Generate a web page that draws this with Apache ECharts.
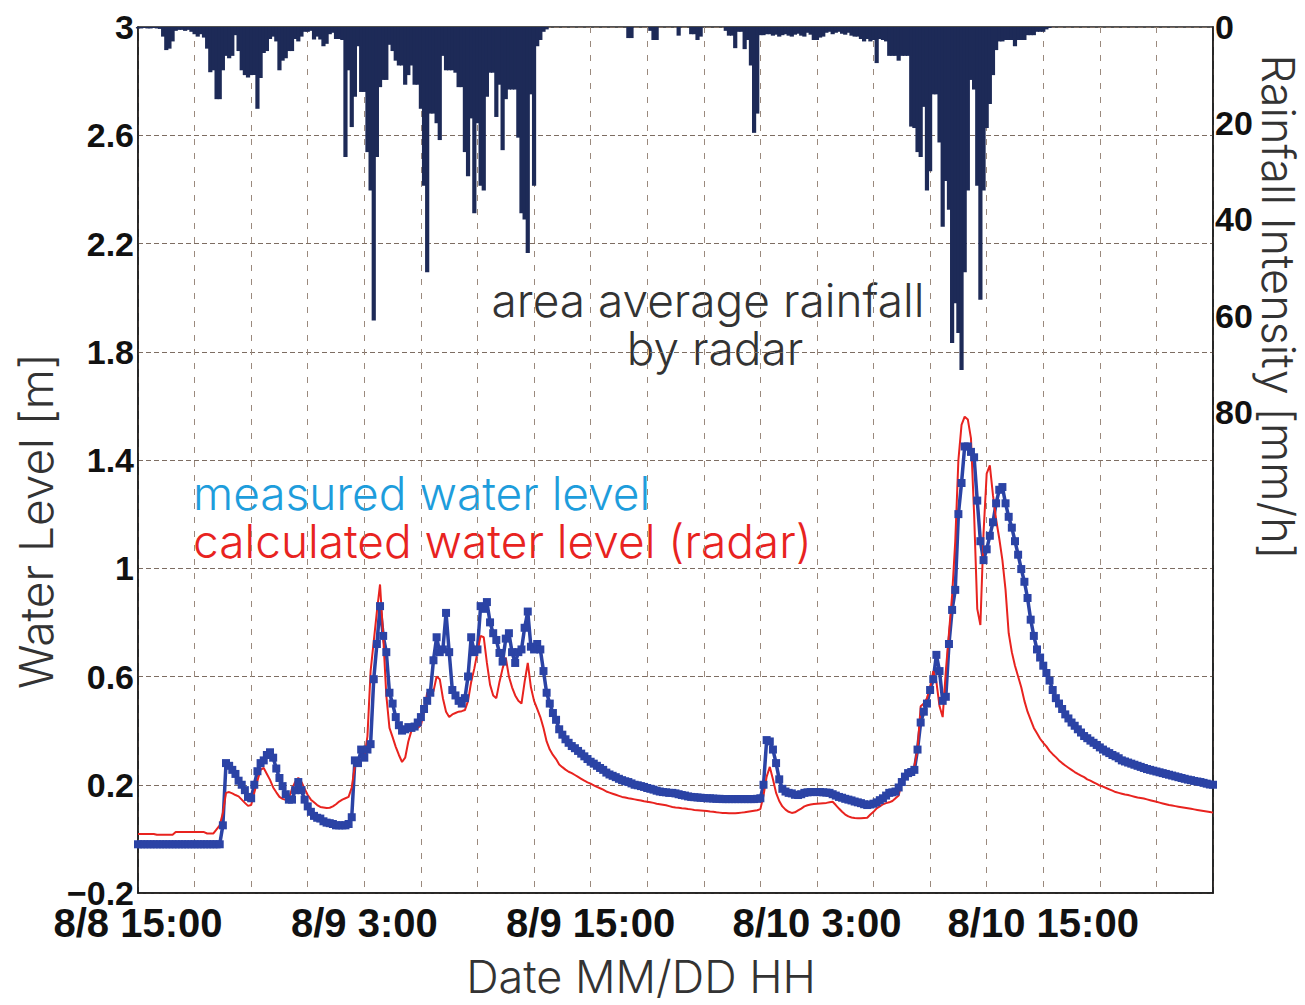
<!DOCTYPE html>
<html><head><meta charset="utf-8">
<script src="https://cdn.jsdelivr.net/npm/echarts@6/dist/echarts.min.js"></script>
<style>html,body{margin:0;padding:0;background:#fff}#c{width:1305px;height:1005px}</style>
</head><body><div id="c"></div>
<script>
// x axis: hours after 8/8 15:00
const xTickHours = [0, 12, 24, 36, 48];
const xTickLabels = ['8/8 15:00', '8/9 3:00', '8/9 15:00', '8/10 3:00', '8/10 15:00'];
const levelTicks = [-0.2, 0.2, 0.6, 1, 1.4, 1.8, 2.2, 2.6, 3];
const rainTicks = [0, 20, 40, 60, 80];
const stepHours = 1 / 6; // 10-minute records

// area average rainfall by radar [mm/h], 10-min
const rainfall = [
  0.3,0.3,0.2,0.3,0.3,0.2,0.3,0.4,2,4.8,
  4.5,3,0.8,0.6,0.6,0.8,0.6,1,1.5,2,
  1.5,2.2,4.5,9.4,9,15,15,9,6,6.5,
  6,1.7,5,9,10,10.5,10,10,17,10.6,
  5.4,5,2.5,2,3,9,7,6.5,5,5,
  2.5,3,2,1,1,0.8,2.6,2,2.6,4,
  3.5,1.5,1.2,2.5,2.5,2.7,27,9,20.8,14.5,
  4,13.5,13.5,26,34,61,27,12.5,11,11,
  3.7,5,7,8,8,12,10,8,12,12,
  17,33,51,18,18,20,23.5,6,9,9,
  9,9.5,12.5,12.5,26,31,19,38.7,20,33,
  34,14.5,9.5,9.5,18.7,12,25.6,15,13,13,
  13,23,38.7,40,47,14,33,4,2.7,1,
  0.5,0,0,0,0,0,0,0,0,0,
  0,0,0,0,0,0,0,0,0,0,
  0,0,0,0,0,0,2.3,2.3,0,0,
  0,0,0,0.8,2.7,2.7,0,0,0,0,
  0,0,1.8,0,0,0,1.5,1.5,2.7,2,
  0,0,0,0,0,0,0,0.8,1.8,1.8,
  4.4,1,1,4.6,2.7,8,22,18,1.7,1.7,
  1.5,1.5,1.8,1.6,2,1.7,1.5,1.8,2,1.6,
  1.4,1.8,2,1.2,1.6,2.7,2.7,2.2,2,1.2,
  1,1.5,1.2,1,1.4,1.6,1.2,1.8,2,2,
  2.5,3,2.5,3,2.7,7.5,2.5,2.7,3,6,
  6,6,7,6,6,6,20.7,21,26,27,
  16.6,34,30,14,14,24,41.5,32,38,65.7,
  57.4,63.6,71.3,51,34,11,13,33,56.7,34,
  21,16,10,4.8,3,3,2.7,2.7,2.7,4,
  2.7,2.7,2.7,1.7,1.7,1.7,1,1,1,0.5,
  0.2,0,0,0,0,0,0,0,0,0,
  0,0,0,0,0,0,0,0,0,0,
  0,0,0,0,0,0,0,0,0,0,
  0,0,0,0,0,0,0,0,0,0,
  0,0,0,0,0,0,0,0,0,0,
  0,0,0
];

// measured water level [m], 10-min
const measuredLevel = [
  -0.02,-0.02,-0.02,-0.02,-0.02,-0.02,-0.02,-0.02,-0.02,-0.02,
  -0.02,-0.02,-0.02,-0.02,-0.02,-0.02,-0.02,-0.02,-0.02,-0.02,
  -0.02,-0.02,-0.02,-0.02,-0.02,-0.02,-0.02,0.05,0.28,0.27,
  0.255,0.24,0.215,0.2,0.18,0.155,0.15,0.2,0.25,0.28,
  0.29,0.31,0.32,0.3,0.26,0.225,0.195,0.165,0.145,0.145,
  0.18,0.21,0.18,0.145,0.12,0.1,0.085,0.078,0.075,0.065,
  0.06,0.058,0.055,0.05,0.05,0.05,0.05,0.055,0.08,0.29,
  0.28,0.33,0.3,0.33,0.35,0.59,0.72,0.86,0.75,0.69,
  0.54,0.5,0.45,0.42,0.4,0.405,0.413,0.41,0.415,0.43,
  0.45,0.48,0.51,0.54,0.66,0.745,0.69,0.7,0.835,0.69,
  0.55,0.53,0.51,0.5,0.52,0.6,0.745,0.69,0.7,0.86,
  0.85,0.875,0.8,0.76,0.735,0.687,0.655,0.74,0.76,0.69,
  0.65,0.69,0.7,0.78,0.84,0.71,0.7,0.72,0.7,0.62,
  0.54,0.5,0.465,0.44,0.405,0.385,0.368,0.355,0.343,0.335,
  0.325,0.315,0.305,0.295,0.285,0.278,0.27,0.262,0.255,0.245,
  0.238,0.233,0.228,0.222,0.217,0.213,0.21,0.205,0.2,0.198,
  0.195,0.192,0.188,0.185,0.182,0.178,0.175,0.173,0.172,0.17,
  0.17,0.168,0.165,0.162,0.16,0.157,0.155,0.154,0.153,0.152,
  0.151,0.15,0.15,0.149,0.148,0.148,0.147,0.147,0.147,0.147,
  0.147,0.147,0.147,0.147,0.147,0.147,0.147,0.148,0.15,0.2,
  0.365,0.36,0.33,0.28,0.22,0.185,0.175,0.17,0.168,0.163,
  0.162,0.165,0.17,0.172,0.173,0.173,0.173,0.173,0.172,0.171,
  0.17,0.165,0.16,0.155,0.152,0.148,0.145,0.142,0.138,0.135,
  0.132,0.128,0.125,0.127,0.13,0.135,0.143,0.15,0.16,0.17,
  0.172,0.175,0.19,0.21,0.23,0.243,0.247,0.255,0.33,0.43,
  0.47,0.5,0.55,0.59,0.68,0.62,0.51,0.525,0.72,0.846,
  0.92,1.2,1.315,1.45,1.45,1.43,1.41,1.25,1.1,1.03,
  1.07,1.12,1.17,1.24,1.29,1.3,1.24,1.19,1.15,1.1,
  1.05,0.997,0.95,0.89,0.81,0.75,0.7,0.67,0.64,0.613,
  0.585,0.55,0.52,0.5,0.48,0.46,0.445,0.43,0.418,0.405,
  0.393,0.38,0.372,0.363,0.355,0.347,0.338,0.33,0.323,0.317,
  0.31,0.305,0.298,0.29,0.286,0.282,0.278,0.274,0.27,0.266,
  0.262,0.258,0.255,0.252,0.249,0.246,0.243,0.24,0.237,0.234,
  0.231,0.228,0.225,0.222,0.219,0.217,0.214,0.212,0.21,0.207,
  0.204,0.201,0.2
];

// calculated water level (radar) [m], 10-min
const calculatedLevel = [
  0.018,0.018,0.018,0.018,0.018,0.018,0.015,0.015,0.015,0.015,
  0.015,0.015,0.025,0.025,0.025,0.025,0.025,0.025,0.025,0.025,
  0.025,0.025,0.02,0.02,0.02,0.035,0.05,0.096,0.17,0.173,
  0.168,0.162,0.157,0.145,0.133,0.122,0.125,0.17,0.215,0.255,
  0.262,0.24,0.218,0.19,0.172,0.155,0.148,0.144,0.15,0.185,
  0.21,0.225,0.21,0.185,0.162,0.145,0.135,0.125,0.118,0.116,
  0.114,0.115,0.12,0.128,0.138,0.145,0.15,0.155,0.19,0.27,
  0.285,0.29,0.3,0.38,0.62,0.73,0.84,0.94,0.75,0.53,
  0.41,0.376,0.34,0.31,0.284,0.3,0.36,0.4,0.41,0.41,
  0.42,0.47,0.54,0.54,0.545,0.6,0.59,0.52,0.47,0.45,
  0.46,0.465,0.47,0.472,0.476,0.51,0.58,0.63,0.69,0.75,
  0.745,0.65,0.57,0.53,0.52,0.58,0.63,0.67,0.6,0.56,
  0.53,0.51,0.5,0.58,0.65,0.56,0.51,0.48,0.45,0.41,
  0.36,0.33,0.31,0.295,0.275,0.265,0.256,0.248,0.243,0.236,
  0.229,0.222,0.215,0.209,0.204,0.198,0.192,0.187,0.182,0.175,
  0.171,0.167,0.163,0.159,0.155,0.153,0.15,0.148,0.146,0.144,
  0.142,0.139,0.137,0.135,0.133,0.13,0.128,0.126,0.124,0.121,
  0.118,0.116,0.115,0.113,0.112,0.11,0.109,0.107,0.106,0.105,
  0.104,0.103,0.101,0.1,0.098,0.097,0.096,0.096,0.095,0.095,
  0.095,0.096,0.097,0.098,0.1,0.102,0.104,0.106,0.11,0.16,
  0.23,0.266,0.22,0.17,0.14,0.12,0.108,0.1,0.096,0.098,
  0.105,0.112,0.12,0.124,0.127,0.129,0.13,0.131,0.132,0.133,
  0.135,0.137,0.125,0.112,0.1,0.09,0.083,0.079,0.077,0.076,
  0.076,0.077,0.078,0.09,0.1,0.113,0.12,0.128,0.132,0.135,
  0.14,0.15,0.16,0.21,0.23,0.24,0.243,0.27,0.33,0.49,
  0.5,0.52,0.56,0.62,0.58,0.49,0.45,0.62,0.76,0.9,
  1.1,1.4,1.53,1.56,1.55,1.48,1.2,0.85,0.79,1.13,
  1.35,1.38,1.27,1.18,1.11,1.03,0.92,0.76,0.69,0.64,
  0.6,0.56,0.51,0.47,0.44,0.41,0.39,0.37,0.355,0.342,
  0.325,0.313,0.302,0.29,0.28,0.271,0.263,0.255,0.247,0.24,
  0.234,0.228,0.22,0.215,0.209,0.203,0.197,0.193,0.188,0.183,
  0.178,0.173,0.17,0.167,0.164,0.162,0.159,0.156,0.153,0.151,
  0.149,0.146,0.143,0.14,0.137,0.134,0.131,0.128,0.125,0.123,
  0.121,0.119,0.117,0.115,0.113,0.111,0.109,0.107,0.105,0.103,
  0.101,0.099,0.097
];

const toPairs = arr => arr.map((v, i) => [i * stepHours, v]);
const tickFont = '"Liberation Sans", Arial, sans-serif';
const thinFont = 'Inter, "Noto Sans", sans-serif';

const chart = echarts.init(document.getElementById('c'), null, { renderer: 'svg' });
chart.setOption({
  animation: false,
  backgroundColor: '#ffffff',
  grid: { left: 138, right: 92, top: 27, bottom: 112, show: true, borderColor: '#1a1a1a', borderWidth: 1.5, containLabel: false, outerBoundsMode: 'none' },
  xAxis: {
    type: 'value', min: 0, max: 57, interval: 3,
    axisLine: { show: true, onZero: false, lineStyle: { color: '#1a1a1a', width: 1.5 } },
    axisTick: { show: false },
    axisLabel: {
      customValues: xTickHours,
      formatter: v => xTickLabels[xTickHours.indexOf(v)],
      fontSize: 40, fontWeight: 'bold', color: '#111', margin: 10, fontFamily: tickFont
    },
    splitLine: { show: true, lineStyle: { color: '#9a897d', type: [6, 8], width: 1 } }
  },
  yAxis: [
    {
      type: 'value', min: -0.2, max: 3, position: 'left',
      axisLine: { show: true, onZero: false, lineStyle: { color: '#1a1a1a', width: 1.5 } },
      axisTick: { show: false, customValues: levelTicks },
      axisLabel: {
        customValues: levelTicks,
        formatter: v => String(+v.toFixed(1)).replace('-', '\u2212'),
        fontSize: 34, fontWeight: 'bold', color: '#111', margin: 4, fontFamily: tickFont
      },
      splitLine: { show: true, lineStyle: { color: '#7d6d62', type: [5, 3], width: 1 } }
    },
    {
      type: 'value', min: 0, max: 180, inverse: true, position: 'right',
      axisLine: { show: true, onZero: false, lineStyle: { color: '#1a1a1a', width: 1.5 } },
      axisTick: { show: false, customValues: rainTicks },
      axisLabel: {
        customValues: rainTicks,
        fontSize: 34, fontWeight: 'bold', color: '#111', margin: 2, fontFamily: tickFont
      },
      splitLine: { show: false }
    }
  ],
  series: [
    {
      name: 'area average rainfall by radar', type: 'bar', yAxisIndex: 1,
      data: toPairs(rainfall), barWidth: 4.2,
      itemStyle: { color: '#1d2a57' }
    },
    {
      name: 'measured water level', type: 'line', yAxisIndex: 0,
      data: toPairs(measuredLevel),
      symbol: 'rect', symbolSize: 8, showAllSymbol: true,
      lineStyle: { color: '#2b43a5', width: 3.5 },
      itemStyle: { color: '#2b43a5' }
    },
    {
      name: 'calculated water level (radar)', type: 'line', yAxisIndex: 0,
      data: toPairs(calculatedLevel), showSymbol: false,
      lineStyle: { color: '#e8231f', width: 2 },
      itemStyle: { color: '#e8231f' }
    }
  ],
  graphic: [
    { type: 'text', x: 708, y: 300, style: { text: 'area average rainfall', font: '300 46px ' + thinFont, fill: '#333', textAlign: 'center', textVerticalAlign: 'middle' } },
    { type: 'text', x: 715, y: 348, style: { text: 'by radar', font: '300 46px ' + thinFont, fill: '#333', textAlign: 'center', textVerticalAlign: 'middle' } },
    { type: 'text', x: 193, y: 493, style: { text: 'measured water level', font: '300 46px ' + thinFont, fill: '#1e9ddc', textAlign: 'left', textVerticalAlign: 'middle' } },
    { type: 'text', x: 193, y: 541, style: { text: 'calculated water level (radar)', font: '300 46px ' + thinFont, fill: '#e8231f', textAlign: 'left', textVerticalAlign: 'middle' } },
    { type: 'text', x: 641, y: 976, style: { text: 'Date MM/DD HH', font: '300 45px ' + thinFont, fill: '#333', textAlign: 'center', textVerticalAlign: 'middle' } },
    { type: 'text', x: 36, y: 521, rotation: Math.PI / 2, style: { text: 'Water Level [m]', font: '300 46px ' + thinFont, fill: '#333', textAlign: 'center', textVerticalAlign: 'middle' } },
    { type: 'text', x: 1278, y: 307, rotation: -Math.PI / 2, style: { text: 'Rainfall Intensity [mm/h]', font: '300 45px ' + thinFont, fill: '#333', textAlign: 'center', textVerticalAlign: 'middle' } }
  ]
});
</script>
</body></html>
